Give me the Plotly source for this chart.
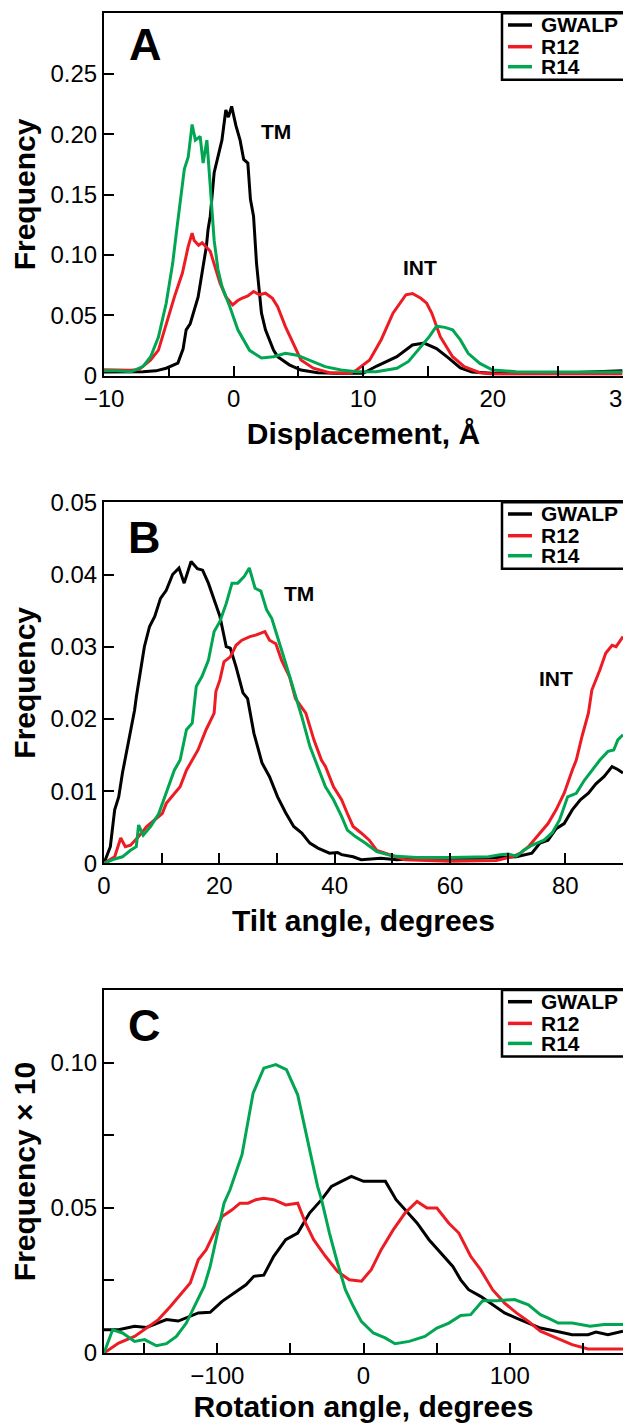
import plotly.graph_objects as go

# ---------------- Data ----------------
# Panel A: displacement (Å) vs frequency
gwalp_a_x = [-10, -9, -8, -7.0, -6.0, -5.2, -4.3, -3.9, -3.66, -3.35, -2.74, -2.28, -2.1, -1.97, -1.8, -1.5, -1.2, -0.9, -0.6, -0.4, -0.15, 0.18, 0.5, 0.78, 1.1, 1.3, 1.54, 1.77, 2.15, 2.46, 3.08, 3.4, 4.3, 5.2, 6.5, 8, 10, 11.05, 12.6, 13.8, 14.7, 15.66, 16.6, 17.5, 18.4, 20, 25, 28, 29, 30]
gwalp_a_y = [0.003, 0.003, 0.0028, 0.0033, 0.004, 0.0062, 0.0104, 0.022, 0.038, 0.043, 0.065, 0.096, 0.107, 0.121, 0.132, 0.168, 0.181, 0.195, 0.220, 0.214, 0.223, 0.207, 0.195, 0.179, 0.176, 0.146, 0.132, 0.093, 0.052, 0.038, 0.0213, 0.0158, 0.009, 0.0047, 0.0025, 0.002, 0.002, 0.008, 0.0157, 0.0254, 0.027, 0.0224, 0.0146, 0.0064, 0.003, 0.002, 0.002, 0.003, 0.0035, 0.004]

r12_a_x = [-10, -9, -8, -7.3, -6.4, -5.8, -5.18, -4.56, -3.95, -3.5, -3.2, -3.04, -2.7, -2.43, -1.8, -1.36, -1.05, -0.6, -0.07, 0.3, 0.63, 1.1, 1.54, 2.0, 2.46, 3.0, 3.4, 4.0, 4.6, 5.2, 6.15, 7.4, 9, 9.5, 10.5, 11.4, 12.3, 13.3, 13.8, 14.45, 14.9, 15.3, 15.95, 16.9, 17.8, 19.0, 20, 25, 30]
r12_a_y = [0.005, 0.0048, 0.0045, 0.005, 0.013, 0.0212, 0.0435, 0.0655, 0.085, 0.107, 0.118, 0.112, 0.108, 0.110, 0.103, 0.0877, 0.0768, 0.0654, 0.0586, 0.062, 0.0641, 0.066, 0.0697, 0.067, 0.0683, 0.064, 0.0572, 0.0406, 0.027, 0.013, 0.0062, 0.0025, 0.002, 0.0047, 0.013, 0.030, 0.0517, 0.067, 0.068, 0.0641, 0.060, 0.0517, 0.0323, 0.0157, 0.0074, 0.0025, 0.0015, 0.0015, 0.0015]

r14_a_x = [-10, -9, -7.9, -7.0, -6.4, -5.8, -5.2, -4.7, -4.42, -4.1, -3.8, -3.5, -3.2, -2.95, -2.58, -2.35, -2.06, -1.8, -1.5, -1.2, -0.9, -0.29, 0.33, 1.23, 2.15, 3.08, 4.0, 4.9, 5.84, 7.06, 8.3, 9.5, 11, 12.6, 13.5, 14.45, 15.1, 15.66, 16.3, 16.9, 17.5, 18.1, 19.0, 20, 21.8, 25, 30]
r14_a_y = [0.004, 0.004, 0.0033, 0.0075, 0.0157, 0.032, 0.060, 0.093, 0.118, 0.146, 0.171, 0.181, 0.208, 0.195, 0.198, 0.176, 0.195, 0.157, 0.112, 0.0877, 0.074, 0.0571, 0.038, 0.021, 0.0146, 0.0157, 0.0185, 0.017, 0.013, 0.0075, 0.0047, 0.0033, 0.0033, 0.0062, 0.0118, 0.024, 0.0323, 0.041, 0.040, 0.038, 0.0296, 0.0185, 0.0102, 0.0047, 0.0033, 0.003, 0.003]

# Panel B: tilt angle (degrees) vs frequency
gwalp_b_x = [0, 0.45, 1.1, 1.85, 2.55, 3.2, 3.9, 4.6, 5.3, 5.6, 6.3, 7.0, 7.9, 8.8, 9.8, 10.8, 11.9, 13.0, 13.9, 15.1, 16.2, 17.1, 18.1, 19.1, 20.1, 21.2, 21.9, 22.9, 24.1, 24.9, 26, 27.4, 28.7, 30.1, 31.5, 32.9, 34.3, 35.7, 37.1, 39.1, 40.5, 41.2, 43.2, 44.6, 48, 50.8, 54.2, 60, 65, 71.5, 74.2, 75.6, 77, 78.4, 79.8, 81.2, 82.6, 84, 85.3, 86.7, 88.1, 89.1, 90]
gwalp_b_y = [0, 0.0009, 0.0023, 0.0074, 0.0092, 0.0125, 0.0153, 0.018, 0.0212, 0.023, 0.0268, 0.030, 0.0328, 0.0342, 0.0367, 0.0378, 0.040, 0.0409, 0.0388, 0.0418, 0.0408, 0.0406, 0.0388, 0.0365, 0.0342, 0.030, 0.0298, 0.0272, 0.0236, 0.0228, 0.018, 0.0139, 0.012, 0.0092, 0.007, 0.0051, 0.0042, 0.0028, 0.0021, 0.0014, 0.0015, 0.0012, 0.0009, 0.0005, 0.0007, 0.0005, 0.0007, 0.0007, 0.0007, 0.0009, 0.0014, 0.0028, 0.0032, 0.0048, 0.0055, 0.0074, 0.0088, 0.0097, 0.011, 0.012, 0.0134, 0.013, 0.0125]

r12_b_x = [0, 1.85, 2.9, 3.7, 4.6, 6.0, 7.4, 8.8, 10.1, 10.8, 12.2, 13.2, 14.3, 15.6, 16.3, 17.7, 19.1, 19.4, 20.1, 20.8, 21.9, 22.9, 23.9, 25.3, 26.3, 27.9, 28.7, 29.8, 30.8, 32.2, 33.2, 35, 36.4, 37.7, 38.4, 39.8, 41.2, 42.2, 43.2, 44.6, 46, 47.3, 49.4, 52.2, 60, 68, 70.8, 72.2, 73.6, 75.6, 77, 78.4, 79.8, 81.2, 81.9, 82.9, 84, 84.6, 86, 87, 88.1, 88.8, 90]
r12_b_y = [0, 0.0009, 0.0035, 0.0023, 0.0025, 0.0037, 0.0051, 0.006, 0.0069, 0.0083, 0.0097, 0.0106, 0.0129, 0.0148, 0.0157, 0.0185, 0.0208, 0.0238, 0.0254, 0.0279, 0.0286, 0.0302, 0.0309, 0.0314, 0.0316, 0.0321, 0.0309, 0.0304, 0.0281, 0.0258, 0.0228, 0.0208, 0.0171, 0.0143, 0.0134, 0.0106, 0.0088, 0.0069, 0.0051, 0.0042, 0.0032, 0.0018, 0.0012, 0.0005, 0.0003, 0.0004, 0.0009, 0.0014, 0.0023, 0.0042, 0.0055, 0.0074, 0.0097, 0.0129, 0.0143, 0.0176, 0.0208, 0.024, 0.0268, 0.0291, 0.0302, 0.030, 0.0314]

r14_b_x = [0, 1.85, 3.2, 4.6, 5.6, 6.0, 6.8, 8.1, 9.5, 10.8, 12.2, 13.2, 14.3, 15.3, 15.8, 16.0, 17.0, 18.1, 19.1, 20.1, 21.2, 22.2, 23.2, 24.3, 25.2, 26.2, 27.2, 28.2, 29.1, 30.1, 31.5, 32.9, 34.3, 35.7, 37.1, 38.4, 39.8, 41.2, 42.2, 43.6, 45.3, 47.3, 50.1, 54.2, 60, 64, 66.7, 68.7, 70.1, 71.5, 72.8, 74.2, 76.3, 77.7, 79, 80.4, 81.9, 83.3, 84.6, 86, 87.4, 88.4, 89.1, 90]
r14_b_y = [0, 0.0006, 0.0009, 0.0018, 0.0023, 0.0053, 0.0039, 0.0051, 0.0069, 0.0097, 0.0129, 0.0143, 0.0185, 0.0194, 0.0226, 0.0245, 0.0259, 0.0281, 0.0321, 0.0335, 0.036, 0.0388, 0.0388, 0.0397, 0.0409, 0.0381, 0.0377, 0.0351, 0.0339, 0.0314, 0.0277, 0.024, 0.0203, 0.0162, 0.0134, 0.0106, 0.0088, 0.0065, 0.0046, 0.0037, 0.0028, 0.0016, 0.001, 0.0008, 0.0008, 0.0008, 0.0009, 0.0012, 0.0013, 0.001, 0.0018, 0.0025, 0.0032, 0.0042, 0.006, 0.0092, 0.0097, 0.0115, 0.0129, 0.0143, 0.0155, 0.0157, 0.0171, 0.0178]

# Panel C: rotation angle (degrees) vs frequency x 10
gwalp_c_x = [-177.5, -167.5, -156.6, -148.4, -134.8, -126.7, -113, -104.9, -96.7, -88.6, -80.4, -75, -68.2, -61.4, -53.2, -45, -36.9, -28.7, -21.9, -15.1, -8.3, 0, 15, 22.3, 28.4, 36.6, 44.8, 52.9, 61.1, 66.5, 71.9, 80.1, 88.3, 96.5, 104.6, 112.8, 121, 131.8, 142.7, 153.6, 159, 167.2, 177.5]
gwalp_c_y = [0.008, 0.008, 0.0092, 0.0088, 0.0115, 0.011, 0.0138, 0.014, 0.0178, 0.0207, 0.0235, 0.0264, 0.0268, 0.0333, 0.039, 0.0413, 0.0482, 0.0528, 0.0574, 0.0591, 0.0608, 0.0591, 0.0591, 0.0528, 0.0494, 0.0448, 0.039, 0.0344, 0.0298, 0.0252, 0.0218, 0.0195, 0.0166, 0.0138, 0.012, 0.0103, 0.0086, 0.0075, 0.0063, 0.0063, 0.0072, 0.0063, 0.0075]

r12_c_x = [-177.5, -167.5, -156.6, -148.4, -140.3, -132.1, -124, -118.5, -113, -107.6, -102.2, -96.7, -89.9, -84.5, -79, -73.6, -68.2, -61.4, -53.2, -45, -39.6, -34.1, -26, -17.8, -9.7, -1.4, 5.3, 12.1, 20.3, 28.4, 36.6, 43.4, 50.2, 58.4, 65.2, 73.3, 80.1, 88.3, 96.5, 104.6, 112.8, 121, 131.8, 142.7, 153.6, 164.5, 177.5]
r12_c_y = [0, 0.0034, 0.0057, 0.0086, 0.0115, 0.016, 0.0207, 0.0241, 0.0321, 0.0356, 0.0413, 0.047, 0.0493, 0.0516, 0.0516, 0.0528, 0.0533, 0.0528, 0.051, 0.0516, 0.0447, 0.039, 0.0333, 0.0281, 0.0252, 0.0247, 0.0287, 0.0356, 0.0424, 0.0482, 0.0522, 0.0499, 0.0499, 0.0447, 0.0413, 0.0333, 0.0287, 0.0218, 0.0172, 0.0138, 0.0109, 0.0075, 0.0052, 0.0029, 0.0014, 0.0014, 0.0014]

r14_c_x = [-177.5, -171.6, -164.8, -156.6, -149.8, -141.6, -134.8, -128, -121.2, -114.4, -109, -104.9, -99.5, -95.4, -91.3, -83.1, -75.5, -68.2, -60, -52.7, -45, -38.2, -31.4, -28.7, -23.3, -17.8, -12.4, -6.9, -1.5, 6.7, 14.8, 21.6, 31.2, 42.0, 50.2, 58.4, 66.5, 73.3, 81.5, 91, 103.3, 112.8, 121, 126.4, 133.2, 142.7, 155, 164.5, 177.5]
r14_c_y = [0, 0.008, 0.0069, 0.004, 0.0046, 0.0025, 0.0032, 0.0057, 0.0103, 0.0172, 0.0229, 0.0298, 0.0424, 0.0516, 0.0562, 0.0683, 0.0895, 0.0981, 0.0993, 0.0976, 0.0889, 0.0735, 0.0574, 0.0528, 0.0413, 0.031, 0.0218, 0.016, 0.0109, 0.0069, 0.0052, 0.0032, 0.004, 0.0057, 0.0086, 0.0103, 0.0129, 0.0132, 0.018, 0.018, 0.0184, 0.0166, 0.0132, 0.012, 0.0103, 0.0103, 0.0092, 0.0098, 0.0098]

series_names = ["GWALP", "R12", "R14"]
series_colors = ["#000000", "#ED1C24", "#00A651"]

panels = [
    dict(xs=[gwalp_a_x, r12_a_x, r14_a_x], ys=[gwalp_a_y, r12_a_y, r14_a_y]),
    dict(xs=[gwalp_b_x, r12_b_x, r14_b_x], ys=[gwalp_b_y, r12_b_y, r14_b_y]),
    dict(xs=[gwalp_c_x, r12_c_x, r14_c_x], ys=[gwalp_c_y, r12_c_y, r14_c_y]),
]

# ---------------- Figure ----------------
W, H = 623, 1423
ML, MR, MT, MB = 104, 0, 13, 70
plot_h = H - MT - MB

def ydom(top_px, bot_px):
    lo = (H - MB - bot_px) / plot_h
    hi = (H - MB - top_px) / plot_h
    return [max(0.0, min(1.0, lo)), max(0.0, min(1.0, hi))]

doms = [ydom(13.3, 375.7), ydom(502.3, 863.3), ydom(990, 1353)]
pix_h = [375.7 - 13.3, 863.3 - 502.3, 1353 - 990]

fig = go.Figure()
for i, p in enumerate(panels):
    xa = "x" if i == 0 else f"x{i+1}"
    ya = "y" if i == 0 else f"y{i+1}"
    for k in range(3):
        fig.add_trace(go.Scatter(x=p["xs"][k], y=p["ys"][k], mode="lines",
                                 line=dict(color=series_colors[k], width=3),
                                 name=series_names[k], showlegend=False,
                                 xaxis=xa, yaxis=ya))

FONT = "Liberation Sans, Arial, Helvetica, sans-serif"
tickfont = dict(family=FONT, size=24, color="black")
titlefont = dict(family=FONT, size=30, color="black")

common_axis = dict(showline=True, linewidth=2, linecolor="black", mirror=True,
                   ticks="inside", ticklen=10, tickwidth=2, tickcolor="black",
                   showgrid=False, zeroline=False, tickfont=tickfont,
                   ticklabeloverflow="allow", automargin=False)

minor_style = dict(ticks="inside", ticklen=10, tickwidth=2, tickcolor="black")

x_specs = [
    dict(range=[-10, 30.05], tickvals=[-10, 0, 10, 20, 30],
         ticktext=["\u221210", "0", "10", "20", "30"],
         minor=dict(minor_style, tickvals=[-5, 5, 15, 25]),
         title=dict(text="<b>Displacement, Å</b>", font=titlefont, standoff=12)),
    dict(range=[0, 90], tickvals=[0, 20, 40, 60, 80],
         minor=dict(minor_style, tickvals=[10, 30, 50, 70]),
         title=dict(text="<b>Tilt angle, degrees</b>", font=titlefont, standoff=12)),
    dict(range=[-177.5, 177.5], tickvals=[-100, 0, 100], ticktext=["\u2212100", "0", "100"],
         minor=dict(minor_style, tickvals=[-150, -50, 50, 150]),
         title=dict(text="<b>Rotation angle, degrees</b>", font=titlefont, standoff=12)),
]
y_specs = [
    dict(range=[0, 0.30], tickvals=[0, 0.05, 0.10, 0.15, 0.20, 0.25],
         ticktext=["0", "0.05", "0.10", "0.15", "0.20", "0.25"],
         title=dict(text="<b>Frequency</b>", font=titlefont, standoff=6)),
    dict(range=[0, 0.05], tickvals=[0, 0.01, 0.02, 0.03, 0.04, 0.05],
         ticktext=["0", "0.01", "0.02", "0.03", "0.04", "0.05"],
         title=dict(text="<b>Frequency</b>", font=titlefont, standoff=6)),
    dict(range=[0, 0.125], tickvals=[0, 0.025, 0.05, 0.075, 0.10],
         ticktext=["0", "", "0.05", "", "0.10"],
         title=dict(text="<b>Frequency × 10</b>", font=titlefont, standoff=6)),
]

layout_axes = {}
for i in range(3):
    xk = "xaxis" if i == 0 else f"xaxis{i+1}"
    yk = "yaxis" if i == 0 else f"yaxis{i+1}"
    ya = "y" if i == 0 else f"y{i+1}"
    xa = "x" if i == 0 else f"x{i+1}"
    layout_axes[xk] = dict(common_axis, domain=[0, 1], anchor=ya, **x_specs[i])
    layout_axes[yk] = dict(common_axis, domain=doms[i], anchor=xa, **y_specs[i])

fig.update_layout(width=W, height=H, autosize=False,
                  margin=dict(l=ML, r=MR, t=MT, b=MB, autoexpand=False),
                  paper_bgcolor="white", plot_bgcolor="white",
                  showlegend=False, **layout_axes)

# Panel letters
letters = ["A", "B", "C"]
letter_pos = [(0.08, 0.914), (0.078, 0.9025), (0.078, 0.902)]
for i in range(3):
    xr = "x domain" if i == 0 else f"x{i+1} domain"
    yr = "y domain" if i == 0 else f"y{i+1} domain"
    fig.add_annotation(x=letter_pos[i][0], y=letter_pos[i][1], xref=xr, yref=yr,
                       xanchor="center", yanchor="middle",
                       text=f"<b>{letters[i]}</b>", showarrow=False,
                       font=dict(family=FONT, size=45, color="black"))

# TM / INT labels (data coordinates)
labels = [("TM", 3.3, 0.202, "x", "y"), ("INT", 14.35, 0.0897, "x", "y"),
          ("TM", 33.9, 0.0374, "x2", "y2"), ("INT", 78.4, 0.0256, "x2", "y2")]
for t, lx, ly, xr, yr in labels:
    fig.add_annotation(x=lx, y=ly, xref=xr, yref=yr, text=f"<b>{t}</b>", showarrow=False,
                       xanchor="center", yanchor="middle",
                       font=dict(family=FONT, size=21, color="black"))

# Manual legends (box + line samples + labels), styled in axis-domain coords
plot_w = W - ML - MR
row_off = [11.7, 33.4, 53.4]
box_h = 66.5
for i in range(3):
    xr = "x domain" if i == 0 else f"x{i+1} domain"
    yr = "y domain" if i == 0 else f"y{i+1} domain"
    hp = pix_h[i]
    fig.add_shape(type="rect", xref=xr, yref=yr,
                  x0=(502 - ML) / plot_w, x1=1.02, y0=1 - box_h / hp, y1=1,
                  line=dict(color="black", width=2.5), fillcolor="white", layer="above")
    for k in range(3):
        yy = 1 - row_off[k] / hp
        fig.add_shape(type="line", xref=xr, yref=yr,
                      x0=(508 - ML) / plot_w, x1=(532 - ML) / plot_w, y0=yy, y1=yy,
                      line=dict(color=series_colors[k], width=3.5), layer="above")
        fig.add_annotation(x=(539 - ML) / plot_w, y=yy, xref=xr, yref=yr,
                           text=f"<b>{series_names[k]}</b>", showarrow=False,
                           xanchor="left", yanchor="middle",
                           font=dict(family=FONT, size=21, color="black"))

fig.write_html("out.html", config={"displayModeBar": False, "responsive": False},
               post_script="document.documentElement.style.overflow='hidden';"
                           "document.body.style.margin='0';document.body.style.overflow='hidden';")
